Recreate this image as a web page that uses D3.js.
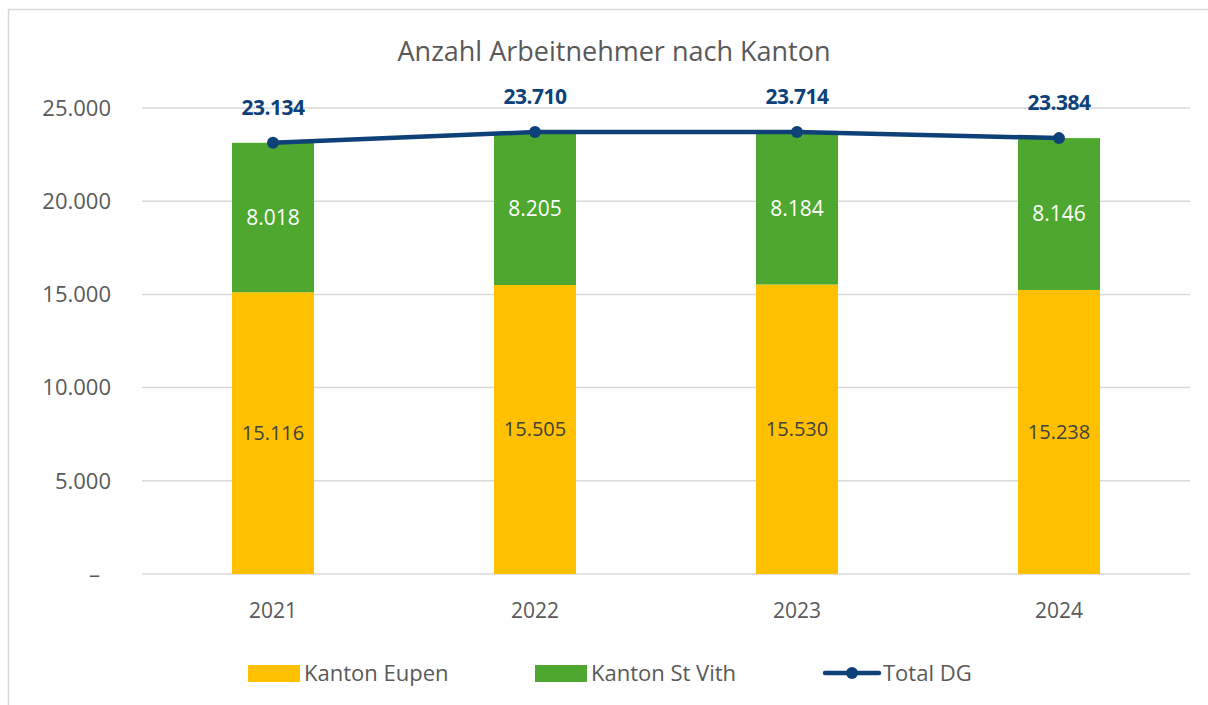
<!DOCTYPE html>
<html><head><meta charset="utf-8">
<script src="https://cdn.jsdelivr.net/npm/d3@7"></script>
<style>body{margin:0;background:#fff}svg{display:block}</style>
</head><body>
<svg id="c" width="1208" height="705"></svg>
<script>
const years = ["2021","2022","2023","2024"];
const eupen = [15116,15505,15530,15238];
const stvith = [8018,8205,8184,8146];
const total = [23134,23710,23714,23384];
const yTicks = [0,5000,10000,15000,20000,25000];
const seriesNames = ["Kanton Eupen","Kanton St Vith","Total DG"];
const title = "Anzahl Arbeitnehmer nach Kanton";

const C_Y="#FFC000", C_G="#4EA72E", C_B="#0E4178", TXT="#595959";
const FONT="'Open Sans', sans-serif";
const fmt = v => v===0 ? "–" : d3.format(",")(v).replace(/,/g,".");

const svg = d3.select("#c");
svg.append("path").attr("d","M8.5,705 L8.5,9.5 L1208,9.5").attr("fill","none").attr("stroke","#d9d9d9").attr("stroke-width",1.5);

const L=142,R=1190,T=108,B=574;
const x = d3.scaleBand().domain(years).range([L,R]).paddingInner(0.687).paddingOuter(0.3435);
const y = d3.scaleLinear().domain([0,25000]).range([B,T]);

svg.append("text").attr("x",614).attr("y",61).attr("text-anchor","middle").attr("font-family",FONT).attr("font-size",27).attr("fill",TXT).text(title);

const g = svg.append("g");
g.selectAll("line.grid").data(yTicks).join("line").attr("class","grid")
 .attr("x1",L).attr("x2",R).attr("y1",d=>y(d)).attr("y2",d=>y(d))
 .attr("stroke","#d9d9d9").attr("stroke-width",1.5);
g.selectAll("text.yt").data(yTicks).join("text").attr("class","yt")
 .attr("x",d=>d===0?100:111).attr("y",d=>y(d)).attr("dy","0.35em").attr("text-anchor","end")
 .attr("font-family",FONT).attr("font-size",22).attr("fill",TXT).text(fmt);
g.selectAll("text.xt").data(years).join("text").attr("class","xt")
 .attr("x",d=>x(d)+x.bandwidth()/2).attr("y",618).attr("text-anchor","middle")
 .attr("font-family",FONT).attr("font-size",21).attr("fill",TXT).text(d=>d);

g.selectAll("rect.e").data(years).join("rect").attr("class","e")
 .attr("x",d=>x(d)).attr("width",x.bandwidth())
 .attr("y",(d,i)=>y(eupen[i])).attr("height",(d,i)=>y(0)-y(eupen[i])).attr("fill",C_Y);
g.selectAll("rect.s").data(years).join("rect").attr("class","s")
 .attr("x",d=>x(d)).attr("width",x.bandwidth())
 .attr("y",(d,i)=>y(eupen[i]+stvith[i])).attr("height",(d,i)=>y(eupen[i])-y(eupen[i]+stvith[i])).attr("fill",C_G);

g.selectAll("text.le").data(years).join("text").attr("class","le")
 .attr("x",d=>x(d)+x.bandwidth()/2).attr("y",(d,i)=>(y(0)+y(eupen[i]))/2).attr("dy","0.35em")
 .attr("text-anchor","middle").attr("font-family",FONT).attr("font-size",20).attr("fill","#404040")
 .text((d,i)=>fmt(eupen[i]));
g.selectAll("text.ls").data(years).join("text").attr("class","ls")
 .attr("x",d=>x(d)+x.bandwidth()/2).attr("y",(d,i)=>(y(eupen[i])+y(eupen[i]+stvith[i]))/2).attr("dy","0.35em")
 .attr("text-anchor","middle").attr("font-family",FONT).attr("font-size",21).attr("fill","#ffffff")
 .text((d,i)=>fmt(stvith[i]));

const cx = d=>x(d)+x.bandwidth()/2;
g.append("path").datum(years).attr("fill","none").attr("stroke",C_B).attr("stroke-width",4.5).attr("stroke-linejoin","round")
 .attr("d",d3.line().x(d=>cx(d)).y((d,i)=>y(total[i])));
g.selectAll("circle.t").data(years).join("circle").attr("class","t")
 .attr("cx",cx).attr("cy",(d,i)=>y(total[i])).attr("r",6).attr("fill",C_B);
g.selectAll("text.lt").data(years).join("text").attr("class","lt")
 .attr("x",cx).attr("y",(d,i)=>y(total[i])-35).attr("dy","0.35em")
 .attr("text-anchor","middle").attr("font-family",FONT).attr("font-size",21).attr("font-weight","bold").attr("fill",C_B)
 .attr("letter-spacing","-0.5")
 .text((d,i)=>fmt(total[i]));

// legend
const lg = svg.append("g").attr("font-family",FONT).attr("font-size",22).attr("fill",TXT);
lg.append("rect").attr("x",248).attr("y",665).attr("width",52).attr("height",17).attr("fill",C_Y);
lg.append("text").attr("x",304).attr("y",673).attr("dy","0.35em").text(seriesNames[0]);
lg.append("rect").attr("x",535).attr("y",665).attr("width",52).attr("height",17).attr("fill",C_G);
lg.append("text").attr("x",591).attr("y",673).attr("dy","0.35em").text(seriesNames[1]);
lg.append("line").attr("x1",825).attr("x2",879).attr("y1",673).attr("y2",673).attr("stroke",C_B).attr("stroke-width",4.5).attr("stroke-linecap","round");
lg.append("circle").attr("cx",852).attr("cy",673).attr("r",6).attr("fill",C_B);
lg.append("text").attr("x",883).attr("y",673).attr("dy","0.35em").text(seriesNames[2]);
</script>
</body></html>
